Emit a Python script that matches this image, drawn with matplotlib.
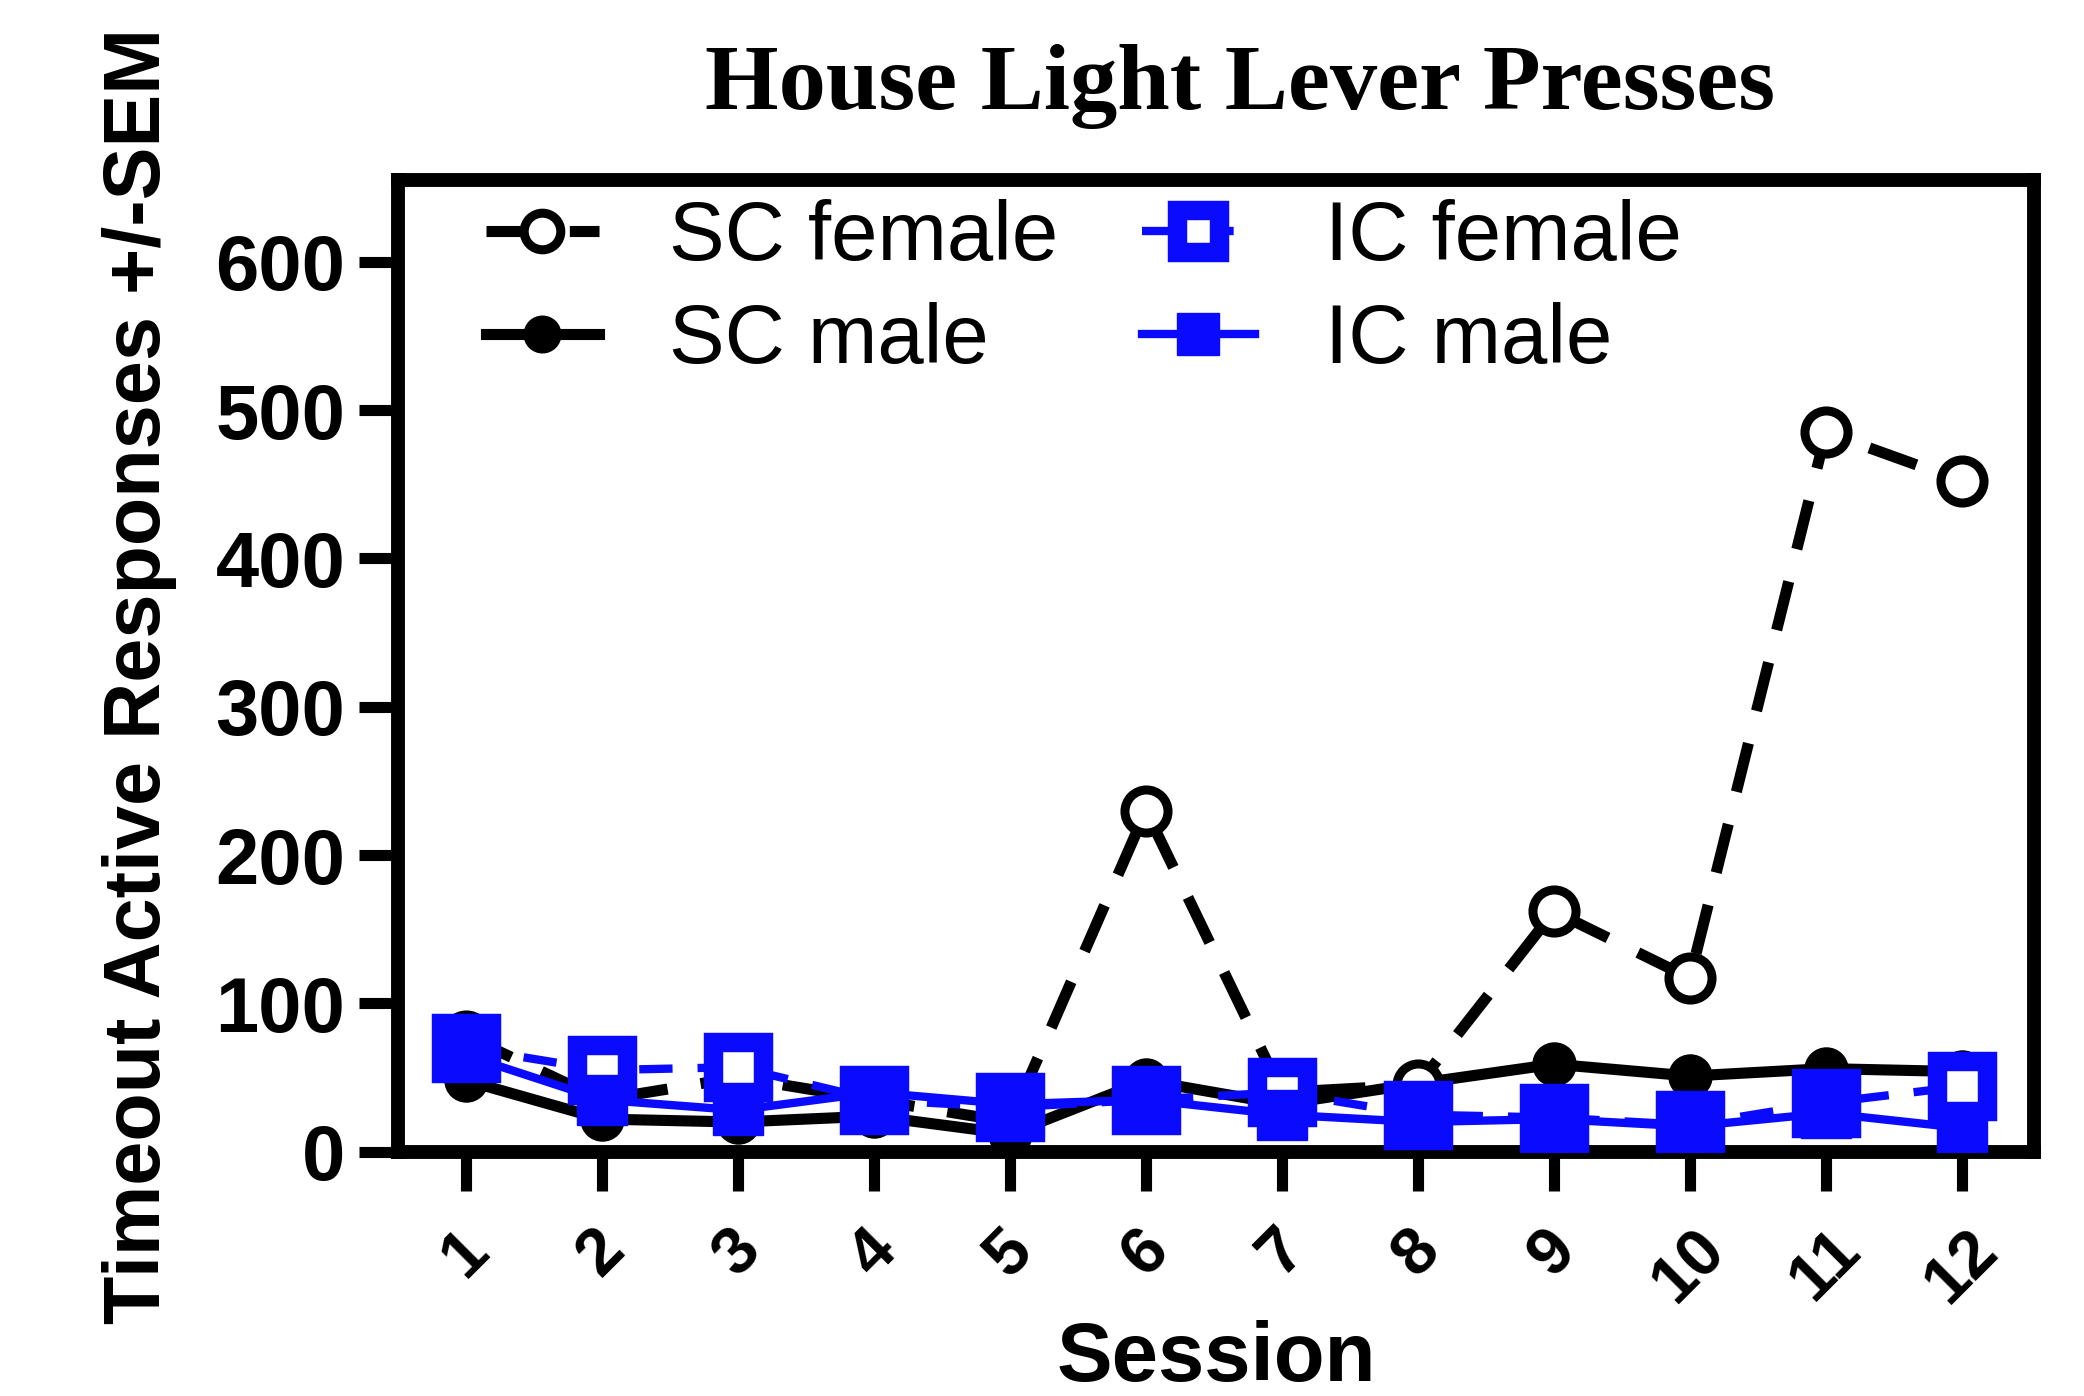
import matplotlib
matplotlib.use('Agg')
import matplotlib.pyplot as plt

# data
sessions = [1, 2, 3, 4, 5, 6, 7, 8, 9, 10, 11, 12]
sc_female = [78, 35, 50, 35, 20, 230, 40, 45, 162, 117, 485, 452]
sc_male = [48, 22, 20, 24, 12, 48, 32, 46, 59, 51, 56, 54]
ic_female = [70, 55, 57, 35, 30, 35, 40, 25, 23, 18, 33, 44]
ic_male = [65, 35, 28, 40, 32, 35, 25, 20, 22, 17, 26, 16]

BLUE = '#0a0aff'

fig = plt.figure(figsize=(20.84, 13.96), dpi=100)
ax = fig.add_axes([0.191, 0.175, 0.785, 0.696])

ax.plot(sessions, sc_female, color='black', lw=8, ls=(0, (4.5, 3)),
        marker='o', ms=31, mfc='white', mec='black', mew=6.5, label='SC female', zorder=4)
ax.plot(sessions, sc_male, color='black', lw=8, ls='-',
        marker='o', ms=31, mfc='black', mec='black', label='SC male', zorder=3)
ax.plot(sessions, ic_female, color=BLUE, lw=6, ls=(0, (4, 3)),
        marker='s', ms=36, mfc='white', mec=BLUE, mew=14, label='IC female', zorder=5)
ax.plot(sessions, ic_male, color=BLUE, lw=6, ls='-',
        marker='s', ms=36, mfc=BLUE, mec=BLUE, label='IC male', zorder=5)

ax.set_xlim(0.5, 12.53)
ax.set_ylim(0, 655)
ax.set_yticks(range(0, 601, 100))
ax.set_xticks(sessions)
ax.set_xticklabels([str(s) for s in sessions], rotation=45, ha='center',
                   fontsize=48, fontweight='bold', family='Liberation Sans')
ax.set_yticklabels([str(v) for v in range(0, 601, 100)],
                   fontsize=56, fontweight='bold', family='Liberation Sans')
ax.tick_params(axis='both', direction='out', length=28, width=8, pad=10)
ax.tick_params(axis='x', pad=20)

for side in ['left', 'right', 'top', 'bottom']:
    ax.spines[side].set_linewidth(10)

ax.set_xlabel('Session', fontsize=60, fontweight='bold', family='Liberation Sans', labelpad=4)
ax.set_ylabel('Timeout Active Responses +/-SEM', fontsize=57, fontweight='bold',
              family='Liberation Sans')
ax.yaxis.set_label_coords(-0.135, 0.49)

fig.text(0.595, 0.938, 'House Light Lever Presses', ha='center', va='center',
         fontsize=68, fontweight='bold', family='Liberation Serif')

leg = ax.legend(ncol=2, loc='upper left', bbox_to_anchor=(0.008, 1.058), frameon=False,
                prop={'family': 'Liberation Sans', 'size': 60},
                handlelength=1.35, handletextpad=0.85, columnspacing=1.0,
                labelspacing=0.3, markerscale=0.85)

fig.savefig('out.png', dpi=100)
